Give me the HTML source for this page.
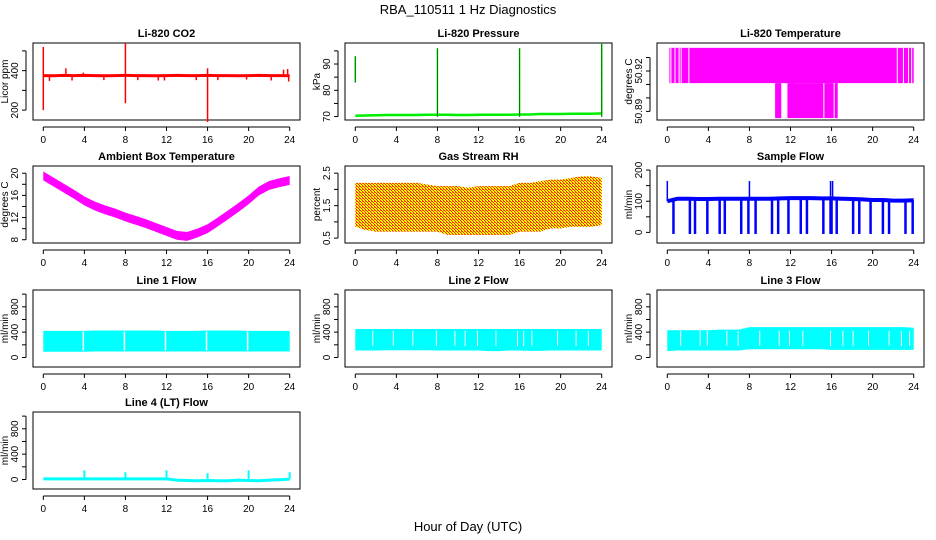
<!DOCTYPE html>
<html><head><meta charset="utf-8"><style>
body{margin:0;background:#fff;}
svg{display:block;font-family:"Liberation Sans",sans-serif;}
</style></head><body>
<svg id="c" width="936" height="540" viewBox="0 0 936 540">
<defs>
<pattern id="rh" width="3" height="3" patternUnits="userSpaceOnUse">
<rect width="3" height="3" fill="#ffff00"/><rect x="0" y="0" width="1" height="1" fill="#ff2000"/><rect x="1" y="1" width="1" height="1" fill="#ff2000"/><rect x="2" y="2" width="1" height="1" fill="#ff2000"/><rect x="2" y="0" width="1" height="1" fill="#ff6000"/>
</pattern>
</defs>
<text x="468" y="14" text-anchor="middle" font-size="13">RBA_110511  1 Hz Diagnostics</text>
<text x="468" y="531" text-anchor="middle" font-size="13">Hour of Day (UTC)</text>
</svg>
<script>
// ---- data ----
const xTicks = [0,4,8,12,16,20,24];
const co2Base = [375,374,376,375,376,375,374,375,376,375,375,374,375,376,375,375,376,375,375,374,375,376,375,375,374];
const co2Spikes = [[0,520],[0,200],[8,540],[8,235],[16,412],[16,140],[2.2,412],[23.4,405],[23.8,408],[3.9,390],[0.6,348],[2.8,350],[5.9,352],[9.2,352],[11.2,350],[11.8,350],[14.9,352],[17,352],[19.8,355],[22.2,350],[23.9,345]];
const presBase = [70.3,70.4,70.5,70.6,70.6,70.6,70.6,70.7,70.7,70.7,70.6,70.6,70.7,70.7,70.7,70.7,70.8,70.8,71.0,71.0,71.0,71.1,71.1,71.1,71.2];
const presSpikes = [[0,83,93],[8,70,96],[16,70,96],[24,70,98]];
const tempHigh = 50.9372, tempMid = 50.9110, tempLow = 50.8850;
const tempLowSegs = [[10.5,11.1],[11.7,15.2],[15.3,16.2],[16.3,16.6]];
const tempGaps = [0.35,0.75,1.15,1.35,2.1,22.4,23.0,23.5,23.8];
const ambCenter = [19.5,18.4,17.3,16.2,15.0,14.1,13.4,12.8,12.1,11.5,10.9,10.2,9.5,8.8,8.6,9.2,10.0,11.2,12.5,13.8,15.2,16.8,17.8,18.3,18.7];
const rhTop = [2.2,2.2,2.2,2.2,2.2,2.2,2.2,2.15,2.1,2.1,2.1,2.05,2.1,2.1,2.1,2.1,2.2,2.2,2.25,2.3,2.3,2.35,2.4,2.4,2.35];
const rhBot = [0.85,0.75,0.7,0.7,0.7,0.7,0.7,0.7,0.7,0.6,0.6,0.6,0.6,0.6,0.6,0.6,0.7,0.7,0.7,0.8,0.8,0.85,0.85,0.85,0.9];
const sfBase = [100,108,108,107,107,108,108,108,108,108,108,109,110,110,110,109,109,108,107,106,104,104,102,102,103];
const sfDrops = [0.6,2.2,2.7,3.9,5.1,5.6,7.2,7.9,8.6,10.2,10.8,11.8,13.0,13.6,15.2,15.9,16.0,16.5,18.1,18.7,19.8,21.0,21.6,23.2,23.9];
const sfPeaks = [[0,165],[8,165],[15.9,165],[16.1,165]];
const l1Top = [420,420,420,420,420,425,425,425,425,425,425,425,420,420,420,420,425,425,425,425,420,420,420,420,420];
const l1Bot = [90,90,90,90,90,95,95,95,95,95,95,95,95,95,95,95,95,95,95,95,95,95,95,95,95];
const l1Gaps = [3.9,7.9,11.9,15.9,19.9];
const l2Top = [450,450,450,450,450,450,450,450,450,450,450,450,450,450,450,450,450,450,450,450,450,450,450,450,450];
const l2Bot = [110,110,110,115,115,115,115,115,110,110,110,110,110,100,100,110,110,105,105,110,110,110,110,110,110];
const l2Gaps = [1.7,3.7,5.6,7.9,9.7,10.7,11.9,13.7,15.8,16.4,17.2,19.7,21.5,22.7];
const l3Top = [430,430,430,430,430,440,440,440,480,480,480,480,480,480,480,480,480,480,480,480,480,480,480,480,470];
const l3Bot = [100,110,110,110,110,110,110,110,130,130,130,130,130,130,130,130,120,120,120,120,120,120,120,120,120];
const l3Gaps = [1.3,3.2,3.9,5.8,6.9,9.0,10.9,11.9,13.2,15.9,17.1,18.1,19.6,21.6,22.8,23.6];
const l4Base = [10,10,10,10,10,10,10,10,10,10,10,10,10,-10,-15,-20,-15,-20,-20,-10,-15,-20,-10,-5,5];
const l4Spikes = [[4,145],[8,115],[12,145],[16,100],[20,145],[24,115]];

// ---- layout ----
const svg = document.getElementById('c');
const NS = 'http://www.w3.org/2000/svg';
const colL = [33,345,657], rowT = [43,166,290,412], BW = 267, BH = 77;
function el(tag, attrs, parent){const e=document.createElementNS(NS,tag);for(const k in attrs)e.setAttribute(k,attrs[k]);(parent||svg).appendChild(e);return e;}

function panel(col,row,title,ylab,lim,ticks,labels){
  const L=colL[col],T=rowT[row];
  const g=el('g',{});
  
  
  const sx=h=>L+10.3+h*(246.4/24);
  const sy=v=>T+BH-(v-lim[0])/(lim[1]-lim[0])*BH;
  const p={g,sx,sy,L,T};
  const t=el('text',{x:L+BW/2,y:T-6,'text-anchor':'middle','font-size':'11','font-weight':'bold'},g);t.textContent=title;
  
  
  const yl=el('text',{transform:`translate(${L-25},${T+BH/2}) rotate(-90)`,'text-anchor':'middle','font-size':'10'},g);yl.textContent=ylab;
  
  
  el('rect',{x:L,y:T,width:BW,height:BH,fill:'none',stroke:'#000','stroke-width':1},g);
  el('line',{x1:sx(0),x2:sx(24),y1:T+BH+7,y2:T+BH+7,stroke:'#000'},g);
  xTicks.forEach(h=>{el('line',{x1:sx(h),x2:sx(h),y1:T+BH+7,y2:T+BH+11,stroke:'#000'},g);
    const tx=el('text',{x:sx(h),y:T+BH+23,'text-anchor':'middle','font-size':'10'},g);tx.textContent=h;
    
    });
  el('line',{x1:L-7,x2:L-7,y1:sy(ticks[0]),y2:sy(ticks[ticks.length-1]),stroke:'#000'},g);
  ticks.forEach(v=>{el('line',{x1:L-11,x2:L-7,y1:sy(v),y2:sy(v),stroke:'#000'},g);});
  labels.forEach(v=>{const ty=el('text',{transform:`translate(${L-15},${sy(v)}) rotate(-90)`,'text-anchor':'middle','font-size':'10'},g);ty.textContent=v;
    
    });
  return p;
}
function band(p,top,bot,fill){
  let d='';top.forEach((v,i)=>{d+=(i?'L':'M')+p.sx(i)+','+p.sy(v);});
  for(let i=bot.length-1;i>=0;i--)d+='L'+p.sx(i)+','+p.sy(bot[i]);
  const e=el('path',{d:d+'Z',fill:fill},p.g);
  
  
  return e;
}
function line(p,vals,color,w){
  let d='';vals.forEach((v,i)=>{d+=(i?'L':'M')+p.sx(i)+','+p.sy(v);});
  const e=el('path',{d:d,fill:'none',stroke:color,'stroke-width':w},p.g);
  
  
  return e;
}
function vseg(p,h,a,b,color,w,dash){
  const e=el('line',{x1:p.sx(h),x2:p.sx(h),y1:p.sy(a),y2:p.sy(b),stroke:color,'stroke-width':w||1},p.g);
  if(dash)e.setAttribute('stroke-dasharray',dash);
  
  
}

let p=panel(0,0,'Li-820 CO2','Licor ppm',[150,540],[200,300,400,500],[200,400]);
line(p,co2Base,'#ff0000',3);
co2Spikes.forEach(s=>vseg(p,s[0],co2Base[Math.round(s[0])],s[1],'#ff0000',1.5));
p=panel(1,0,'Li-820 Pressure','kPa',[68.7,98],[70,75,80,85,90,95],[70,80,90]);
line(p,presBase,'#00ee00',2.5);
presSpikes.forEach(s=>{vseg(p,s[0],s[1],s[2],'#00ee00',1.5);vseg(p,s[0],s[1],s[2],'#000',1,'1,1');});
p=panel(2,0,'Li-820 Temperature','degrees C',[50.8836,50.9408],[50.89,50.90,50.91,50.92,50.93],[50.89,50.92]);
{const r=el('rect',{x:p.sx(0.2),y:p.sy(tempHigh),width:p.sx(24)-p.sx(0.2),height:p.sy(tempMid)-p.sy(tempHigh),fill:'#ff00ff'},p.g);
 
 }
tempLowSegs.forEach(s=>{const r=el('rect',{x:p.sx(s[0]),y:p.sy(tempMid),width:p.sx(s[1])-p.sx(s[0]),height:p.sy(tempLow)-p.sy(tempMid),fill:'#ff00ff'},p.g);
 
 });
tempGaps.forEach(h=>vseg(p,h,tempMid,tempHigh,'#fff',1));
p=panel(0,1,'Ambient Box Temperature','degrees C',[7.41,21.3],[8,10,12,14,16,18,20],[8,12,16,20]);
band(p,ambCenter.map(v=>v+0.8),ambCenter.map(v=>v-0.8),'#ff00ff');
p=panel(1,1,'Gas Stream RH','percent',[0.35,2.72],[0.5,1,1.5,2,2.5],[0.5,1.5,2.5]);
band(p,rhTop,rhBot,'url(#rh)');
p=panel(2,1,'Sample Flow','ml/min',[-34,213],[0,50,100,150,200],[0,100,200]);
line(p,sfBase,'#0000ff',4);
sfDrops.forEach(h=>vseg(p,h,sfBase[Math.round(h)],-5,'#0000ff',2.5));
sfPeaks.forEach(s=>vseg(p,s[0],sfBase[Math.round(s[0])],s[1],'#0000ff',1.5));
const flowTicks=[0,200,400,600,800,1000], flowLabels=[0,400,800], flowLim=[-150,1065];
p=panel(0,2,'Line 1 Flow','ml/min',flowLim,flowTicks,flowLabels);
band(p,l1Top,l1Bot,'#00ffff');l1Gaps.forEach(h=>vseg(p,h,l1Bot[0]+20,l1Top[0]-10,'#fff',1.5));
p=panel(1,2,'Line 2 Flow','ml/min',flowLim,flowTicks,flowLabels);
band(p,l2Top,l2Bot,'#00ffff');l2Gaps.forEach(h=>vseg(p,h,180,420,'#fff',1));
p=panel(2,2,'Line 3 Flow','ml/min',flowLim,flowTicks,flowLabels);
band(p,l3Top,l3Bot,'#00ffff');l3Gaps.forEach(h=>vseg(p,h,180,420,'#fff',1));
p=panel(0,3,'Line 4 (LT) Flow','ml/min',flowLim,flowTicks,flowLabels);
line(p,l4Base,'#00ffff',3);
l4Spikes.forEach(s=>vseg(p,s[0],10,s[1],'#00ffff',2));
</script>
</body></html>
